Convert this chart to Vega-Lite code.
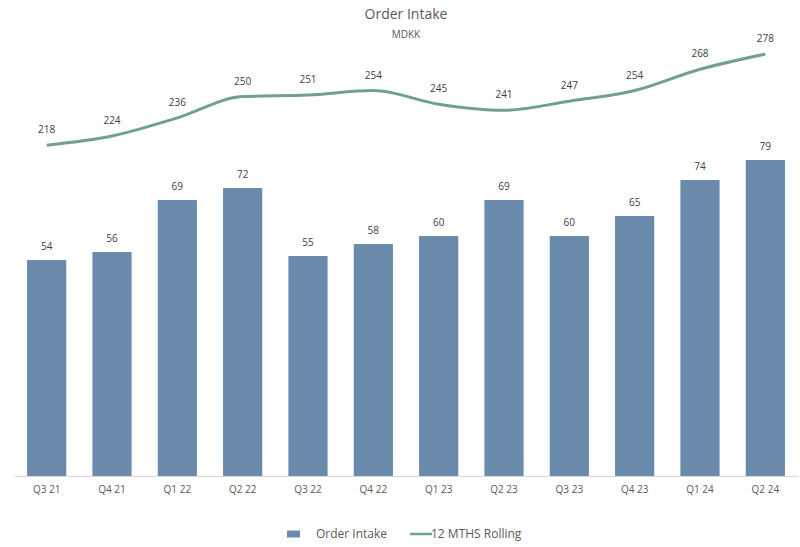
{
  "$schema": "https://vega.github.io/schema/vega-lite/v6.json",
  "width": 784,
  "height": 431,
  "autosize": {"type": "none"},
  "padding": {"left": 14, "top": 45, "right": 2, "bottom": 71},
  "background": "white",
  "title": {
    "text": "Order Intake",
    "subtitle": "MDKK",
    "anchor": "middle",
    "font": "Open Sans",
    "fontSize": 14,
    "fontWeight": "normal",
    "color": "#595959",
    "subtitleFont": "Open Sans",
    "subtitleFontSize": 10,
    "subtitleColor": "#595959",
    "subtitlePadding": 8,
    "offset": -6
  },
  "config": {
    "view": {"stroke": null},
    "font": "Open Sans"
  },
  "data": {
    "values": [
      {"q": "Q3 21", "intake": 54, "rolling": 218},
      {"q": "Q4 21", "intake": 56, "rolling": 224},
      {"q": "Q1 22", "intake": 69, "rolling": 236},
      {"q": "Q2 22", "intake": 72, "rolling": 250},
      {"q": "Q3 22", "intake": 55, "rolling": 251},
      {"q": "Q4 22", "intake": 58, "rolling": 254},
      {"q": "Q1 23", "intake": 60, "rolling": 245},
      {"q": "Q2 23", "intake": 69, "rolling": 241},
      {"q": "Q3 23", "intake": 60, "rolling": 247},
      {"q": "Q4 23", "intake": 65, "rolling": 254},
      {"q": "Q1 24", "intake": 74, "rolling": 268},
      {"q": "Q2 24", "intake": 79, "rolling": 278}
    ]
  },
  "encoding": {
    "x": {
      "field": "q",
      "type": "nominal",
      "sort": null,
      "scale": {"paddingInner": 0.4, "paddingOuter": 0.2},
      "axis": {
        "title": null,
        "labelAngle": 0,
        "ticks": false,
        "domainColor": "#d9d9d9",
        "domainWidth": 1,
        "labelColor": "#595959",
        "labelFontSize": 10,
        "labelPadding": 8,
        "labelFont": "Open Sans"
      }
    }
  },
  "layer": [
    {
      "layer": [
        {
          "mark": {"type": "bar", "color": "#6a8bab"},
          "encoding": {
            "y": {"field": "intake", "type": "quantitative", "scale": {"domain": [0, 107.75]}, "axis": null},
            "color": {
              "datum": "Order Intake",
              "type": "nominal",
              "scale": {"domain": ["Order Intake", "12 MTHS Rolling"], "range": ["#6a8bab", "#72a08c"]},
              "legend": {
                "title": null,
                "orient": "none",
                "legendX": 286,
                "legendY": 483,
                "padding": 0,
                "direction": "horizontal",
                "labelFont": "Open Sans",
                "labelFontSize": 12,
                "labelColor": "#595959",
                "symbolSize": 400,
                "columnPadding": 17,
                "labelOffset": 4,
                "encode": {
                  "symbols": {
                    "update": {
                      "shape": {"signal": "datum.value === 'Order Intake' ? 'M-1.9,-0.35H-0.6V0.35H-1.9Z' : 'M-1.1,0H1.1'"},
                      "strokeWidth": {"signal": "datum.value === 'Order Intake' ? 0 : 2.5"},
                      "stroke": {"signal": "datum.value === 'Order Intake' ? '#6a8bab' : '#72a08c'"},
                      "fill": {"signal": "datum.value === 'Order Intake' ? '#6a8bab' : 'transparent'"},
                      "opacity": {"value": 1}
                    }
                  }
                }
              }
            }
          }
        },
        {
          "mark": {"type": "text", "dy": -10, "baseline": "alphabetic", "fontSize": 10, "color": "#404040", "font": "Open Sans"},
          "encoding": {
            "y": {"field": "intake", "type": "quantitative", "scale": {"domain": [0, 107.75]}, "axis": null},
            "text": {"field": "intake", "type": "quantitative"}
          }
        }
      ]
    },
    {
      "layer": [
        {
          "mark": {"type": "line", "strokeWidth": 3, "interpolate": "monotone", "color": "#72a08c"},
          "encoding": {
            "y": {"field": "rolling", "type": "quantitative", "scale": {"domain": [0, 284]}, "axis": null},
            "color": {"datum": "12 MTHS Rolling", "type": "nominal"}
          }
        },
        {
          "mark": {"type": "text", "dy": -12, "baseline": "alphabetic", "fontSize": 10, "color": "#404040", "font": "Open Sans"},
          "encoding": {
            "y": {"field": "rolling", "type": "quantitative", "scale": {"domain": [0, 284]}, "axis": null},
            "text": {"field": "rolling", "type": "quantitative"}
          }
        }
      ]
    }
  ],
  "resolve": {"scale": {"y": "independent"}}
}
